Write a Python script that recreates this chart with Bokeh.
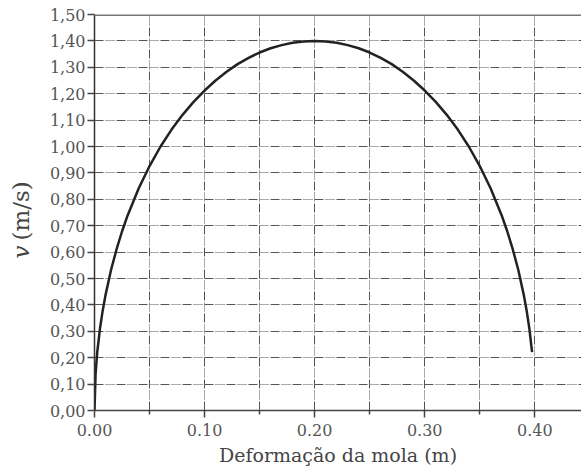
import math
from bokeh.plotting import figure
from bokeh.layouts import row
from bokeh.models import Range1d, FixedTicker, Span
from bokeh.core.properties import value
from bokeh.embed import file_html
from bokeh.resources import INLINE

# Curve values: deformation (m) vs speed v (m/s)
deformation = [0.0, 0.001, 0.0025, 0.005, 0.0075, 0.01, 0.015, 0.02, 0.025, 0.03,
               0.04, 0.05, 0.06, 0.07, 0.08, 0.09, 0.10, 0.11, 0.12, 0.13, 0.14,
               0.15, 0.16, 0.17, 0.18, 0.19, 0.20, 0.21, 0.22, 0.23, 0.24, 0.25,
               0.26, 0.27, 0.28, 0.29, 0.30, 0.31, 0.32, 0.33, 0.34, 0.35, 0.36,
               0.37, 0.375, 0.38, 0.385, 0.39, 0.3925, 0.395, 0.3975]
speed = [0.0, 0.140, 0.221, 0.311, 0.380, 0.437, 0.532, 0.610, 0.678, 0.738,
         0.840, 0.926, 1.000, 1.064, 1.120, 1.169, 1.212, 1.250, 1.283, 1.312, 1.336,
         1.356, 1.372, 1.384, 1.393, 1.398, 1.400, 1.398, 1.393, 1.384, 1.372, 1.356,
         1.336, 1.312, 1.283, 1.250, 1.212, 1.169, 1.120, 1.064, 1.000, 0.926, 0.840,
         0.738, 0.678, 0.610, 0.532, 0.437, 0.380, 0.311, 0.221]

x_major_ticks = [0.0, 0.1, 0.2, 0.3, 0.4]
x_minor_ticks = [0.05, 0.15, 0.25, 0.35]
x_tick_labels = ["0.00", "0.10", "0.20", "0.30", "0.40"]
y_ticks = [0.0, 0.1, 0.2, 0.3, 0.4, 0.5, 0.6, 0.7, 0.8, 0.9, 1.0, 1.1, 1.2, 1.3, 1.4, 1.5]
y_tick_labels = ["0,00", "0,10", "0,20", "0,30", "0,40", "0,50", "0,60", "0,70",
                 "0,80", "0,90", "1,00", "1,10", "1,20", "1,30", "1,40", "1,50"]
x_title = "Deformação da mola (m)"
y_title_var = "v"
y_title_unit = "(m/s)"

FONT = "DejaVu Serif"
GRID_DASH = "9 2 1 1 1 1 1 1 1 1 1 2"
H = 470
TITLE_W = 42
FRAME_TOP = 14
FRAME_BOTTOM = 410

# ---- narrow strip holding the vertical y-axis title ----
# (its frame is aligned with the main chart's frame by the row layout,
#  so a flipped pixel range makes y read as page pixels)
t = figure(width=TITLE_W, height=H, output_backend="svg", toolbar_location=None,
           x_range=Range1d(0, TITLE_W), y_range=Range1d(FRAME_BOTTOM, FRAME_TOP),
           x_axis_location=None, y_axis_location=None,
           min_border_left=0, min_border_right=0, min_border_top=FRAME_TOP,
           min_border_bottom=H - FRAME_BOTTOM)
t.grid.visible = False
t.outline_line_color = None
t.background_fill_color = "white"
t.border_fill_color = "white"
t.text(x=[20], y=[258], text=[y_title_var], angle=math.pi / 2,
       text_font=value(FONT), text_font_style=value("italic"), text_font_size=value("23px"),
       text_color="#444444", text_align="left", text_baseline="middle")
t.text(x=[20], y=[240], text=[y_title_unit], angle=math.pi / 2,
       text_font=value(FONT), text_font_style=value("normal"), text_font_size=value("23px"),
       text_color="#444444", text_align="left", text_baseline="middle")

# ---- main chart ----
p = figure(width=581 - TITLE_W, height=H, output_backend="svg", toolbar_location=None,
           x_range=Range1d(0, 0.4424), y_range=Range1d(0, 1.5),
           min_border_left=94 - TITLE_W, min_border_right=0, min_border_top=FRAME_TOP,
           min_border_bottom=H - FRAME_BOTTOM)
p.outline_line_color = None
p.background_fill_color = "white"
p.border_fill_color = "white"

# grids
p.xgrid.ticker = FixedTicker(ticks=x_major_ticks, minor_ticks=x_minor_ticks)
p.ygrid.ticker = FixedTicker(ticks=y_ticks[1:-1])
for g in (p.xgrid, p.ygrid):
    g.grid_line_color = "#555555"
    g.grid_line_width = 1
    g.grid_line_dash = GRID_DASH
p.xgrid.minor_grid_line_color = "#555555"
p.xgrid.minor_grid_line_width = 1
p.xgrid.minor_grid_line_dash = GRID_DASH

# x axis
xa = p.xaxis[0]
xa.ticker = FixedTicker(ticks=x_major_ticks, minor_ticks=x_minor_ticks)
xa.major_label_overrides = {tk: lb for tk, lb in zip(x_major_ticks, x_tick_labels)}
xa.axis_line_color = "#444444"
xa.axis_line_width = 1.5
xa.major_tick_line_color = "#444444"
xa.major_tick_line_width = 1.5
xa.major_tick_in = 0
xa.major_tick_out = 7
xa.minor_tick_line_color = "#444444"
xa.minor_tick_line_width = 1.5
xa.minor_tick_in = 0
xa.minor_tick_out = 4
xa.major_label_standoff = 6
xa.major_label_text_font = FONT
xa.major_label_text_font_size = "16px"
xa.major_label_text_color = "#555555"
xa.axis_label = x_title
xa.axis_label_text_font = FONT
xa.axis_label_text_font_style = "normal"
xa.axis_label_text_font_size = "19px"
xa.axis_label_text_color = "#444444"
xa.axis_label_standoff = 5

# y axis
ya = p.yaxis[0]
ya.ticker = FixedTicker(ticks=y_ticks, minor_ticks=[])
ya.major_label_overrides = {tk: lb for tk, lb in zip(y_ticks, y_tick_labels)}
ya.axis_line_color = "#333333"
ya.axis_line_width = 1.5
ya.major_tick_line_color = "#444444"
ya.major_tick_line_width = 1.5
ya.major_tick_in = 0
ya.major_tick_out = 7
ya.minor_tick_line_color = None
ya.major_label_standoff = 2
ya.major_label_text_font = FONT
ya.major_label_text_font_size = "16px"
ya.major_label_text_color = "#555555"

# top border line
p.add_layout(Span(location=1.5, dimension="width", line_color="#777777", line_width=3))

# curve
p.line(deformation, speed, line_color="#222222", line_width=2.5)

layout = row(t, p, spacing=0)
open("out.html", "w").write(file_html(layout, INLINE))
